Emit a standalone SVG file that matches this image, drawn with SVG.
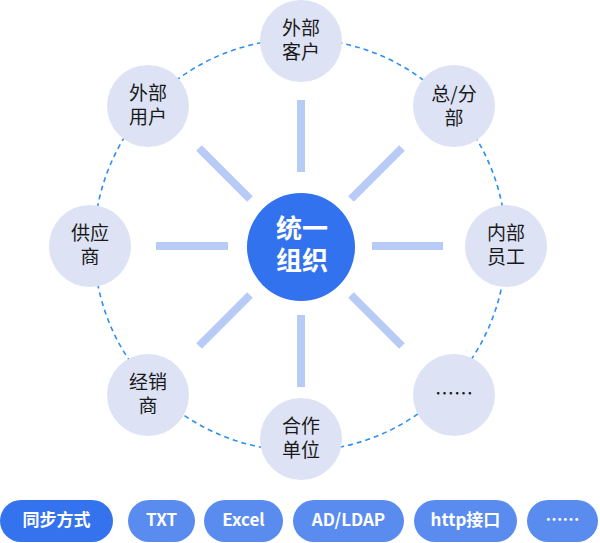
<svg xmlns="http://www.w3.org/2000/svg" width="600" height="543" viewBox="0 0 600 543">
<style>
.ring{fill:none;stroke:#2B8FF2;stroke-width:1.6;stroke-dasharray:5 4}
.spoke{stroke:#B8CBF7;stroke-width:8;stroke-linecap:butt}
.node{fill:#DDE3F5}
.nt{font-family:"Noto Sans CJK SC","Noto Sans",sans-serif;font-size:19px;fill:#1A1A1A;text-anchor:middle}
.ct{font-family:"Noto Sans CJK SC","Noto Sans",sans-serif;font-size:26px;font-weight:bold;fill:#FFFFFF;text-anchor:middle}
.pill{fill:#5A8CF0}
.pill0{fill:#3472EE}
.pt{font-family:"Noto Sans CJK SC","Noto Sans",sans-serif;font-size:17px;font-weight:bold;fill:#FFFFFF;text-anchor:middle}
</style>
<rect width="600" height="543" fill="#FFFFFF"/>
<g id="connectors">
<circle class="ring" cx="300" cy="245" r="206"/>
<line class="spoke" x1="301" y1="100" x2="301" y2="172"/>
<line class="spoke" x1="301" y1="315" x2="301" y2="387"/>
<line class="spoke" x1="156" y1="246" x2="228" y2="246"/>
<line class="spoke" x1="372" y1="246" x2="443" y2="246"/>
<line class="spoke" x1="199" y1="148" x2="250" y2="199"/>
<line class="spoke" x1="402" y1="148" x2="351" y2="199"/>
<line class="spoke" x1="199" y1="346" x2="250" y2="295"/>
<line class="spoke" x1="402" y1="346" x2="351" y2="295"/>
</g>
<g id="center">
<circle cx="301" cy="247" r="54" fill="#3372EF"/>
<text class="ct" x="302" y="238">统一<tspan x="302" dy="32">组织</tspan></text>
</g>
<g id="n-waibukehu">
<circle class="node" cx="301" cy="41" r="41"/>
<text class="nt" x="301" y="35">外部<tspan x="301" dy="24">客户</tspan></text>
</g>
<g id="n-zongfenbu">
<circle class="node" cx="454" cy="106" r="41"/>
<text class="nt" x="454" y="101">总/分<tspan x="454" dy="24">部</tspan></text>
</g>
<g id="n-neibuyuangong">
<circle class="node" cx="506" cy="246" r="41"/>
<text class="nt" x="506" y="240">内部<tspan x="506" dy="24">员工</tspan></text>
</g>
<g id="n-more">
<circle class="node" cx="454" cy="395" r="41"/>
<text class="nt" x="454" y="401">……</text>
</g>
<g id="n-hezuodanwei">
<circle class="node" cx="301" cy="439" r="41"/>
<text class="nt" x="301" y="433">合作<tspan x="301" dy="24">单位</tspan></text>
</g>
<g id="n-jingxiaoshang">
<circle class="node" cx="148" cy="395" r="41"/>
<text class="nt" x="148" y="389">经销<tspan x="148" dy="24">商</tspan></text>
</g>
<g id="n-gongyingshang">
<circle class="node" cx="90" cy="246" r="41"/>
<text class="nt" x="90" y="240">供应<tspan x="90" dy="24">商</tspan></text>
</g>
<g id="n-waibuyonghu">
<circle class="node" cx="148" cy="106" r="41"/>
<text class="nt" x="148" y="100">外部<tspan x="148" dy="24">用户</tspan></text>
</g>
<g id="pills">
<g id="p-sync"><rect class="pill0" x="0" y="500" width="113" height="42" rx="21"/><text class="pt" x="56.5" y="526">同步方式</text></g>
<g id="p-txt"><rect class="pill" x="128" y="500" width="67" height="42" rx="21"/><text class="pt" x="161.5" y="526">TXT</text></g>
<g id="p-excel"><rect class="pill" x="204" y="500" width="79" height="42" rx="21"/><text class="pt" x="243.5" y="526">Excel</text></g>
<g id="p-ldap"><rect class="pill" x="293" y="500" width="111" height="42" rx="21"/><text class="pt" x="348.5" y="526">AD/LDAP</text></g>
<g id="p-http"><rect class="pill" x="414" y="500" width="103" height="42" rx="21"/><text class="pt" x="465.5" y="526">http接口</text></g>
<g id="p-more"><rect class="pill" x="527" y="500" width="71" height="42" rx="21"/><text class="pt" x="562.5" y="526">……</text></g>
</g>
</svg>
